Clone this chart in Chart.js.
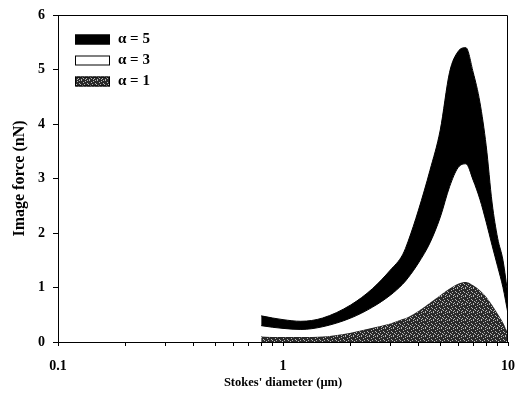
<!DOCTYPE html>
<html><head><meta charset="utf-8">
<script src="https://cdn.jsdelivr.net/npm/chart.js@4"></script>
<style>html,body{margin:0;padding:0;background:#fff;}</style>
</head><body>
<canvas id="c" width="521" height="403"></canvas>
<script>
const diameters = [0.8, 0.9, 1.0, 1.2, 1.5, 2.0, 2.5, 3.0, 3.4, 3.6, 4.0, 4.5, 5.0, 5.5, 6.0, 6.5, 7.0, 7.5, 8.0, 8.5, 9.0, 9.5, 10];
const alpha5 = [0.48, 0.44, 0.41, 0.38, 0.44, 0.68, 0.98, 1.32, 1.60, 1.85, 2.42, 3.15, 3.89, 4.95, 5.33, 5.40, 4.95, 4.40, 3.60, 2.55, 1.90, 1.50, 0.85];
const alpha3 = [0.30, 0.27, 0.25, 0.23, 0.28, 0.44, 0.64, 0.86, 1.06, 1.18, 1.45, 1.82, 2.29, 2.85, 3.20, 3.27, 2.97, 2.62, 2.20, 1.77, 1.38, 1.00, 0.52];
const alpha1 = [0.10, 0.09, 0.09, 0.09, 0.10, 0.17, 0.26, 0.34, 0.42, 0.46, 0.57, 0.72, 0.86, 0.98, 1.07, 1.10, 1.04, 0.95, 0.83, 0.68, 0.52, 0.36, 0.16];
const seriesLabels = ['α = 5', 'α = 3', 'α = 1'];
const xTickValues = [0.1,0.2,0.3,0.4,0.5,0.6,0.7,0.8,0.9,1,2,3,4,5,6,7,8,9,10];
const xLabelValues = [0.1, 1, 10];
const yTickValues = [0,1,2,3,4,5,6];

// stipple pattern for the gray band
function makePattern(){
  const p = document.createElement('canvas');
  p.width = 8; p.height = 8;
  const g = p.getContext('2d');
  g.fillStyle = '#2a2a2a'; g.fillRect(0,0,8,8);
  const light = [[1,0],[5,1],[3,2],[7,3],[0,4],[4,4],[2,5],[6,6],[1,7],[5,7],[3,6],[7,0]];
  g.fillStyle = '#b8b8b8';
  light.forEach(([x,y])=>g.fillRect(x,y,1,1));
  return g.createPattern(p,'repeat');
}
const ctx = document.getElementById('c').getContext('2d');
const grayPat = makePattern();

const toPts = arr => diameters.map((d,i)=>({x:d, y:arr[i]}));
const fills = ['#000000', '#ffffff', grayPat];
const serifBold = (s)=>({family:'"Liberation Serif", "DejaVu Serif", serif', size:s, weight:'bold'});

const framePlugin = {
  id:'frameLegend',
  afterDraw(chart){
    const c = chart.ctx, a = chart.chartArea;
    c.save();
    c.strokeStyle = '#000'; c.lineWidth = 1;
    c.beginPath();
    c.moveTo(Math.round(a.left)+0.5, Math.round(a.top)+0.5);
    c.lineTo(Math.round(a.right)-0.5, Math.round(a.top)+0.5);
    c.lineTo(Math.round(a.right)-0.5, Math.round(a.bottom));
    c.stroke();
    // legend
    c.font = 'bold 15px "Liberation Serif", serif';
    c.textBaseline = 'middle';
    chart.data.datasets.forEach((ds,i)=>{
      const cy = 39.5 + i*21;
      c.fillStyle = fills[i];
      c.fillRect(75, cy-5, 35, 10);
      c.strokeStyle = '#000';
      c.strokeRect(75.5, cy-4.5, 34, 9);
      c.fillStyle = '#000';
      c.fillText(ds.label, 118, cy);
    });
    c.restore();
  }
};

new Chart(ctx, {
  type:'line',
  data:{
    datasets:[
      {label:seriesLabels[0], data:toPts(alpha5), borderColor:'#000', borderWidth:1, backgroundColor:fills[0], fill:'+1', pointRadius:0, cubicInterpolationMode:'monotone'},
      {label:seriesLabels[1], data:toPts(alpha3), borderColor:'#000', borderWidth:1, backgroundColor:fills[1], fill:'+1', pointRadius:0, cubicInterpolationMode:'monotone'},
      {label:seriesLabels[2], data:toPts(alpha1), borderColor:'#222', borderWidth:1, backgroundColor:fills[2], fill:'origin', pointRadius:0, cubicInterpolationMode:'monotone'}
    ]
  },
  options:{
    responsive:false, animation:false, devicePixelRatio:1,
    layout:{padding:{left:0, top:15, right:13, bottom:0}},
    plugins:{legend:{display:false}, tooltip:{enabled:false}},
    scales:{
      x:{
        type:'logarithmic', min:0.1, max:10,
        afterBuildTicks(s){ s.ticks = xTickValues.map(v=>({value:v})); },
        afterFit(s){ s.height = 61; s.paddingLeft = 0; s.paddingRight = 0; },
        ticks:{autoSkip:false, maxRotation:0, color:'#000', font:serifBold(14), padding:12,
          callback:(v)=> xLabelValues.includes(v) ? String(v) : ''},
        grid:{display:true, drawOnChartArea:false, drawTicks:true, tickLength:4, color:'#000', tickColor:'#000'},
        border:{display:true, color:'#000', width:1},
        title:{display:true, text:"Stokes' diameter (μm)", color:'#000', font:serifBold(12.5), padding:{top:0, bottom:13}}
      },
      y:{
        min:0, max:6,
        afterBuildTicks(s){ s.ticks = yTickValues.map(v=>({value:v})); },
        afterFit(s){ s.width = 58; s.paddingTop = 0; s.paddingBottom = 0; },
        ticks:{color:'#000', font:serifBold(14), padding:8},
        grid:{display:true, drawOnChartArea:false, drawTicks:true, tickLength:5, color:'#000', tickColor:'#000'},
        border:{display:true, color:'#000', width:1},
        title:{display:true, text:'Image force (nN)', color:'#000', font:serifBold(16), padding:{top:10, bottom:0}}
      }
    }
  },
  plugins:[framePlugin]
});
</script>
</body></html>
